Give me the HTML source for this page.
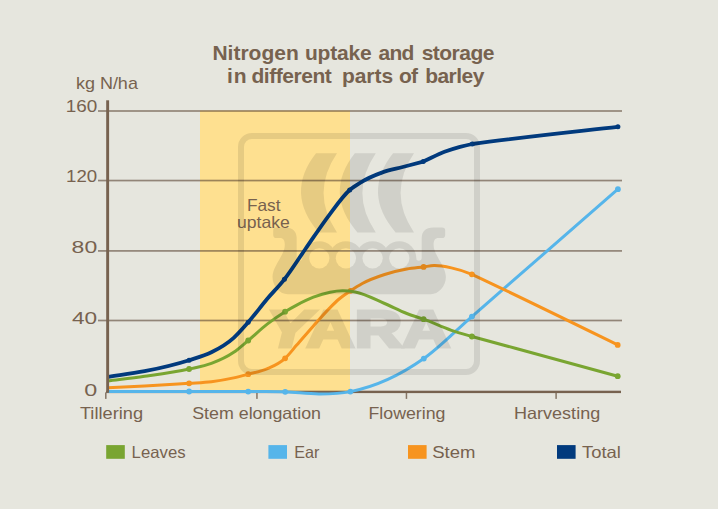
<!DOCTYPE html>
<html lang="en"><head><meta charset="utf-8"><title>Nitrogen uptake and storage in different parts of barley</title>
<style>html,body{margin:0;padding:0;background:#e6e6de;}body{width:718px;height:509px;overflow:hidden;font-family:"Liberation Sans",sans-serif;}svg{display:block}text{font-family:"Liberation Sans",sans-serif;fill:#77624f}</style>
</head><body>
<svg width="718" height="509" viewBox="0 0 718 509">
<rect width="718" height="509" fill="#e6e6de"/>
<rect x="200" y="110.5" width="150" height="281.5" fill="#fee090"/>
<rect x="98" y="110.15" width="524" height="1.7" fill="#5a4434" fill-opacity="0.6"/>
<rect x="98" y="179.70" width="524" height="1.7" fill="#5a4434" fill-opacity="0.6"/>
<rect x="98" y="250.05" width="524" height="1.7" fill="#5a4434" fill-opacity="0.6"/>
<rect x="98" y="319.65" width="524" height="1.7" fill="#5a4434" fill-opacity="0.6"/>
<rect x="105.05" y="392.4" width="1.5" height="6.5" fill="#857565"/>
<rect x="256.20" y="392.4" width="1.5" height="6.5" fill="#857565"/>
<rect x="405.70" y="392.4" width="1.5" height="6.5" fill="#857565"/>
<rect x="555.35" y="392.4" width="1.5" height="6.5" fill="#857565"/>
<rect x="106.2" y="390.7" width="514.8" height="2.4" fill="#77624f"/>
<path d="M107.50,391.50 C134.70,391.50 161.90,391.50 189.10,391.50 C208.80,391.50 228.50,391.60 248.20,391.60 C260.53,391.60 272.87,391.36 285.20,391.80 C296.73,392.21 308.27,394.14 319.80,394.00 C330.00,393.88 340.20,393.51 350.40,391.60 C374.87,387.01 399.33,375.86 423.80,358.60 C439.83,347.29 455.87,330.39 471.90,316.60 C520.57,274.11 569.23,231.69 617.90,189.20" fill="none" stroke="#56b5ea" stroke-width="3.0" stroke-linejoin="round"/>
<circle cx="189.1" cy="391.5" r="2.9" fill="#56b5ea"/>
<circle cx="248.2" cy="391.6" r="2.9" fill="#56b5ea"/>
<circle cx="285.2" cy="391.8" r="2.9" fill="#56b5ea"/>
<circle cx="350.4" cy="391.6" r="2.9" fill="#56b5ea"/>
<circle cx="423.8" cy="358.6" r="2.9" fill="#56b5ea"/>
<circle cx="471.9" cy="316.6" r="2.9" fill="#56b5ea"/>
<circle cx="617.9" cy="189.2" r="2.9" fill="#56b5ea"/>
<path d="M107.50,387.80 C119.87,387.23 132.23,386.76 144.60,386.10 C159.43,385.30 174.27,384.32 189.10,383.30 C196.53,382.79 203.97,382.60 211.40,381.70 C218.83,380.80 226.27,379.55 233.70,377.90 C238.53,376.83 243.37,375.50 248.20,374.20 C254.63,372.48 261.07,371.56 267.50,368.70 C273.37,366.09 279.23,363.70 285.10,358.30 C288.97,354.74 292.83,349.52 296.70,345.10 C302.27,338.74 307.83,332.15 313.40,325.90 C318.97,319.65 324.53,313.21 330.10,307.60 C332.90,304.78 335.70,301.92 338.50,299.50 C342.53,296.02 346.57,293.51 350.60,290.80 C354.50,288.18 358.40,285.64 362.30,283.50 C369.73,279.43 377.17,276.92 384.60,274.50 C392.00,272.09 399.40,270.32 406.80,269.00 C412.40,268.00 418.00,267.60 423.60,266.90 C427.07,266.47 430.53,265.70 434.00,265.60 C439.80,265.43 445.60,266.65 451.40,267.90 C458.23,269.37 465.07,271.57 471.90,274.30 C520.50,297.14 569.10,321.09 617.70,344.90" fill="none" stroke="#f7941f" stroke-width="3.0" stroke-linejoin="round"/>
<circle cx="189.1" cy="383.3" r="2.9" fill="#f7941f"/>
<circle cx="248.2" cy="374.2" r="2.9" fill="#f7941f"/>
<circle cx="285.1" cy="358.3" r="2.9" fill="#f7941f"/>
<circle cx="350.6" cy="290.8" r="2.9" fill="#f7941f"/>
<circle cx="423.6" cy="266.9" r="2.9" fill="#f7941f"/>
<circle cx="471.9" cy="274.3" r="2.9" fill="#f7941f"/>
<circle cx="617.7" cy="344.9" r="2.9" fill="#f7941f"/>
<path d="M107.50,380.90 C119.87,379.37 132.23,378.06 144.60,376.30 C159.43,374.19 174.27,372.29 189.10,369.00 C196.53,367.35 203.97,366.18 211.40,363.40 C218.83,360.62 226.27,357.42 233.70,352.30 C238.53,348.97 243.37,344.53 248.20,340.50 C254.63,335.14 261.07,328.87 267.50,323.90 C273.37,319.37 279.23,315.33 285.10,311.70 C288.97,309.31 292.83,307.15 296.70,305.10 C302.27,302.15 307.83,299.35 313.40,297.20 C318.97,295.05 324.53,293.27 330.10,292.20 C334.23,291.40 338.37,290.84 342.50,290.80 C346.73,290.76 350.97,291.22 355.20,292.00 C365.00,293.80 374.80,299.34 384.60,303.50 C392.00,306.64 399.40,310.63 406.80,313.50 C412.40,315.67 418.00,317.17 423.60,319.20 C432.87,322.55 442.13,327.12 451.40,330.30 C458.23,332.65 465.07,334.52 471.90,336.50 C520.50,349.72 569.10,362.83 617.70,376.20" fill="none" stroke="#79a531" stroke-width="3.0" stroke-linejoin="round"/>
<circle cx="189.1" cy="369.0" r="2.9" fill="#79a531"/>
<circle cx="248.2" cy="340.5" r="2.9" fill="#79a531"/>
<circle cx="285.1" cy="311.7" r="2.9" fill="#79a531"/>
<circle cx="423.6" cy="319.2" r="2.9" fill="#79a531"/>
<circle cx="471.9" cy="336.5" r="2.9" fill="#79a531"/>
<circle cx="617.7" cy="376.2" r="2.9" fill="#79a531"/>
<path d="M107.50,377.00 C119.87,375.07 132.23,373.64 144.60,371.20 C159.43,368.27 174.27,364.92 189.10,360.20 C196.53,357.83 203.97,356.03 211.40,352.30 C218.83,348.57 226.27,344.52 233.70,337.80 C238.53,333.43 243.37,327.81 248.20,322.30 C254.63,314.97 261.07,306.10 267.50,298.50 C273.13,291.84 278.77,286.47 284.40,279.30 C291.40,270.39 298.40,259.05 305.40,249.00 C313.27,237.70 321.13,225.67 329.00,215.30 C335.90,206.20 342.80,196.04 349.70,190.00 C353.43,186.73 357.17,184.58 360.90,182.30 C367.87,178.05 374.83,175.15 381.80,172.60 C388.77,170.05 395.73,168.85 402.70,167.00 C409.53,165.18 416.37,163.38 423.20,161.60 C430.30,158.48 437.40,154.50 444.50,151.80 C449.67,149.83 454.83,148.20 460.00,146.80 C464.07,145.70 468.13,144.81 472.20,144.00 C520.77,137.20 569.33,132.29 617.90,126.80" fill="none" stroke="#013a7d" stroke-width="3.8" stroke-linejoin="round"/>
<circle cx="189.1" cy="360.2" r="2.5" fill="#013a7d"/>
<circle cx="248.2" cy="322.3" r="2.5" fill="#013a7d"/>
<circle cx="284.4" cy="279.3" r="2.5" fill="#013a7d"/>
<circle cx="349.7" cy="190.0" r="2.5" fill="#013a7d"/>
<circle cx="423.2" cy="161.6" r="2.5" fill="#013a7d"/>
<circle cx="472.2" cy="144.0" r="2.5" fill="#013a7d"/>
<circle cx="617.9" cy="126.8" r="2.5" fill="#013a7d"/>
<rect x="106.2" y="100.3" width="2.9" height="292.5" fill="#77624f"/>
<text y="59.6" font-size="21" font-weight="bold" xml:space="preserve"><tspan x="212.40" style="letter-spacing:0.014px">Nitrogen </tspan><tspan x="304.90" style="letter-spacing:-0.201px">uptake </tspan><tspan x="378.50" style="letter-spacing:-0.800px">and </tspan><tspan x="421.70" style="letter-spacing:-0.530px">storage</tspan></text>
<text y="83.0" font-size="21" font-weight="bold" xml:space="preserve"><tspan x="227.08" style="letter-spacing:0.800px">in </tspan><tspan x="251.40" style="letter-spacing:-0.451px">different </tspan><tspan x="341.90" style="letter-spacing:-0.043px">parts </tspan><tspan x="398.99" style="letter-spacing:-0.800px">of </tspan><tspan x="425.20" style="letter-spacing:-0.539px">barley</tspan></text>
<text x="75.9" y="88.6" font-size="17" textLength="62" lengthAdjust="spacingAndGlyphs">kg N/ha</text>
<text x="65.7" y="112.0" font-size="17" textLength="31.5" lengthAdjust="spacingAndGlyphs">160</text>
<text x="66.1" y="182.0" font-size="17" textLength="31.1" lengthAdjust="spacingAndGlyphs">120</text>
<text x="71.6" y="253.0" font-size="17" textLength="25.6" lengthAdjust="spacingAndGlyphs">80</text>
<text x="72.0" y="323.8" font-size="17" textLength="25.2" lengthAdjust="spacingAndGlyphs">40</text>
<text x="84.2" y="395.9" font-size="17" textLength="13.0" lengthAdjust="spacingAndGlyphs">0</text>
<text x="246.9" y="210.6" font-size="16.5" textLength="33.6" lengthAdjust="spacingAndGlyphs">Fast</text>
<text x="237.0" y="227.5" font-size="16.5" textLength="52.8" lengthAdjust="spacingAndGlyphs">uptake</text>
<text x="79.9" y="419.2" font-size="16.5" textLength="63.2" lengthAdjust="spacingAndGlyphs">Tillering</text>
<text x="192.2" y="419.2" font-size="16.5" textLength="128.8" lengthAdjust="spacingAndGlyphs">Stem elongation</text>
<text x="368.5" y="419.2" font-size="16.5" textLength="76.9" lengthAdjust="spacingAndGlyphs">Flowering</text>
<text x="514.0" y="419.2" font-size="16.5" textLength="86.2" lengthAdjust="spacingAndGlyphs">Harvesting</text>
<rect x="106.2" y="445.1" width="18.6" height="13.7" fill="#79a531"/>
<text x="131.6" y="458.2" font-size="16.5" textLength="54.0" lengthAdjust="spacingAndGlyphs">Leaves</text>
<rect x="268.4" y="445.1" width="18.6" height="13.7" fill="#56b5ea"/>
<text x="294.2" y="458.2" font-size="16.5" textLength="25.2" lengthAdjust="spacingAndGlyphs">Ear</text>
<rect x="408.0" y="445.1" width="18.6" height="13.7" fill="#f7941f"/>
<text x="432.2" y="458.2" font-size="16.5" textLength="43.2" lengthAdjust="spacingAndGlyphs">Stem</text>
<rect x="557.0" y="445.1" width="18.6" height="13.7" fill="#013a7d"/>
<text x="582.0" y="458.2" font-size="16.5" textLength="38.9" lengthAdjust="spacingAndGlyphs">Total</text>
<defs><mask id="holes" maskUnits="userSpaceOnUse" x="230" y="120" width="260" height="260"><rect x="230" y="120" width="260" height="260" fill="#fff"/>
<circle cx="319.3" cy="258.3" r="10.1" fill="#000"/>
<circle cx="345.9" cy="258.3" r="10.1" fill="#000"/>
<circle cx="372.6" cy="258.3" r="10.1" fill="#000"/>
<circle cx="399.3" cy="258.3" r="10.1" fill="#000"/>
</mask></defs>
<g opacity="0.09" fill="#000">
<rect x="241" y="136" width="236" height="236" rx="11" ry="11" fill="none" stroke="#000" stroke-width="6"/>
<path d="M316.0,153.3 L337.0,153.3 Q310.2,193 337.0,232.4 L318.6,232.4 Q284.7,193 316.0,153.3 Z"/>
<path d="M354.8,153.3 L375.8,153.3 Q349.0,193 375.8,232.4 L357.4,232.4 Q323.5,193 354.8,153.3 Z"/>
<path d="M393.0,153.3 L414.0,153.3 Q387.2,193 414.0,232.4 L395.6,232.4 Q361.7,193 393.0,153.3 Z"/>
<g mask="url(#holes)">
<path d="M358.2,294.3 L431.0,294.3 C438.0,294.3 445.9,287.0 445.9,277.1 C445.9,266.0 433.6,255.0 433.6,245.0 C433.6,240.5 435.0,238.1 438.5,238.1 L442.0,238.1 Q445.2,238.1 445.2,235.0 L445.2,230.4 Q445.2,227.4 442.2,227.4 L433.0,227.4 C426.0,227.4 421.7,231.0 421.7,238.0 L421.7,258.0 C421.7,261.5 416.0,261.5 416.0,258.0 L358.2,258.0 Z "/>
<path d="M360.2,294.3 L287.4,294.3 C280.4,294.3 272.5,287.0 272.5,277.1 C272.5,266.0 284.8,255.0 284.8,245.0 C284.8,240.5 283.4,238.1 279.9,238.1 L276.4,238.1 Q273.2,238.1 273.2,235.0 L273.2,230.4 Q273.2,227.4 276.2,227.4 L285.4,227.4 C292.4,227.4 296.7,231.0 296.7,238.0 L296.7,258.0 C296.7,261.5 302.4,261.5 302.4,258.0 L360.2,258.0 Z "/>
<circle cx="319.3" cy="258.3" r="17.0"/>
<circle cx="345.9" cy="258.3" r="17.0"/>
<circle cx="372.6" cy="258.3" r="17.0"/>
<circle cx="399.3" cy="258.3" r="17.0"/>
</g>
<text transform="translate(266.5,346.9) scale(1.30,1)" x="0" y="0" font-size="51" font-weight="bold" style="fill:#000;stroke:#000;stroke-width:3.2;stroke-linejoin:miter"><tspan font-style="italic">Y</tspan><tspan dx="-3.2">ARA</tspan></text>
</g>
</svg></body></html>
